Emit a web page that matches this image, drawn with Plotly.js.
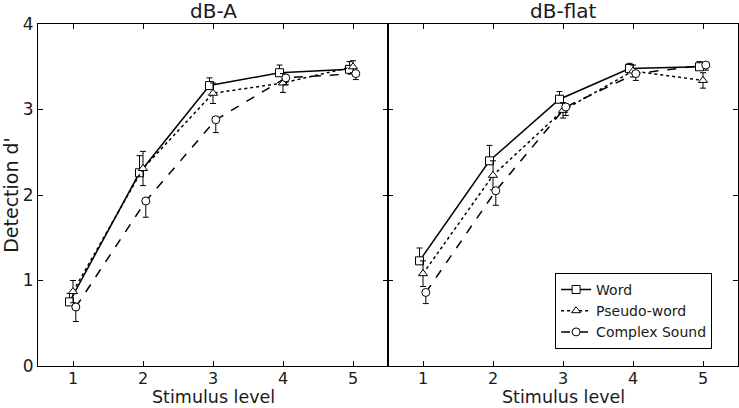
<!DOCTYPE html>
<html>
<head>
<meta charset="utf-8">
<script src="https://cdn.plot.ly/plotly-3.0.1.min.js"></script>
<style>html,body{margin:0;padding:0;background:#fff;}#chart{width:739px;height:408px;}</style>
</head>
<body>
<div id="chart"></div>
<script>
// Data
const levels = [1, 2, 3, 4, 5];
const seriesNames = ["Word", "Pseudo-word", "Complex Sound"];
const panelTitles = ["dB-A", "dB-flat"];
const xTitle = "Stimulus level";
const yTitle = "Detection d'";

// dB-A
const wordA      = [0.75, 2.26, 3.28, 3.43, 3.47];
const wordAErr   = [0.10, 0.20, 0.09, 0.09, 0.09];
const pseudoA    = [0.87, 2.31, 3.19, 3.31, 3.50];
const pseudoAErr = [0.13, 0.20, 0.12, 0.11, 0.07];
const complexA   = [0.69, 1.93, 2.88, 3.37, 3.42];
const complexAErr= [0.17, 0.19, 0.15, 0.08, 0.07];

// dB-flat
const wordF      = [1.23, 2.40, 3.12, 3.48, 3.50];
const wordFErr   = [0.15, 0.18, 0.09, 0.06, 0.06];
const pseudoF    = [1.08, 2.23, 2.99, 3.45, 3.34];
const pseudoFErr = [0.15, 0.17, 0.09, 0.07, 0.09];
const complexF   = [0.86, 2.05, 3.03, 3.42, 3.52];
const complexFErr= [0.13, 0.17, 0.10, 0.08, 0.06];

const offsets = [-0.05, 0, 0.04];
const symbols = ["square", "triangle-up", "circle"];
const dashes = ["solid", "dot", "dash"];
// error bar direction: Word up, Pseudo both, Complex down
function errFor(i, err) {
  const zeros = err.map(() => 0);
  if (i === 0) return {type: "data", symmetric: false, array: err, arrayminus: zeros, color: "#000", thickness: 1, width: 3};
  if (i === 1) return {type: "data", symmetric: true, array: err, color: "#000", thickness: 1, width: 3};
  return {type: "data", symmetric: false, array: zeros, arrayminus: err, color: "#000", thickness: 1, width: 3};
}

const panels = [
  {vals: [wordA, pseudoA, complexA], errs: [wordAErr, pseudoAErr, complexAErr], xa: "x", ya: "y"},
  {vals: [wordF, pseudoF, complexF], errs: [wordFErr, pseudoFErr, complexFErr], xa: "x2", ya: "y2"}
];

const traces = [];
panels.forEach((p, pi) => {
  p.vals.forEach((v, i) => {
    traces.push({
      type: "scatter", mode: "lines+markers",
      name: seriesNames[i],
      x: levels.map(l => l + offsets[i]), y: v,
      xaxis: p.xa, yaxis: p.ya,
      showlegend: pi === 1,
      line: {color: "#000", width: 1.5, dash: dashes[i]},
      marker: {symbol: symbols[i], size: 8, color: "#fff", line: {width: 1, color: "#000"}},
      error_y: errFor(i, p.errs[i])
    });
  });
});

const font = {family: "DejaVu Sans, sans-serif", color: "#1a1a1a"};
function xaxis(domain) {
  return {
    domain: domain, range: [0.5, 5.5], tickvals: levels, ticktext: levels.map(String),
    ticks: "inside", ticklen: 5, tickcolor: "#000", mirror: "ticks", showline: true, linecolor: "#000", linewidth: 1,
    showgrid: false, zeroline: false, tickfont: Object.assign({size: 16}, font), ticklabelstandoff: -2,
    title: {text: ""}
  };
}
function yaxis(anchor, labels) {
  return {
    anchor: anchor, range: [0, 4], tickvals: [0, 1, 2, 3, 4], ticktext: ["0","1","2","3","4"],
    showticklabels: labels,
    ticks: "inside", ticklen: 5, tickcolor: "#000", mirror: "ticks", showline: true, linecolor: "#000", linewidth: 1,
    showgrid: false, zeroline: false, tickfont: Object.assign({size: 17}, font),
    title: labels ? {text: yTitle, font: Object.assign({size: 19}, font), standoff: 4} : {text: ""}
  };
}

const annotations = panelTitles.map((t, i) => ({
  text: t, xref: "paper", yref: "paper", x: 0.25 + 0.5 * i, xanchor: "center", y: 1, yanchor: "bottom", yshift: -1,
  showarrow: false, font: Object.assign({size: 20}, font)
})).concat([0, 1].map(i => ({
  text: xTitle, xref: "paper", yref: "paper", x: 0.25 + 0.5 * i, xanchor: "center", y: -0.1228, yanchor: "bottom", yshift: -1,
  showarrow: false, font: Object.assign({size: 17.5}, font)
})));

const layout = {
  width: 739, height: 408,
  margin: {l: 38, r: 1, t: 24, b: 42},
  paper_bgcolor: "#fff", plot_bgcolor: "#fff",
  showlegend: true,
  xaxis: xaxis([0, 0.5]),
  xaxis2: Object.assign(xaxis([0.5, 1]), {anchor: "y2"}),
  yaxis: yaxis("x", true),
  yaxis2: yaxis("x2", false),
  legend: {
    x: 0.963, y: 0.05, xanchor: "right", yanchor: "bottom",
    bordercolor: "#000", borderwidth: 1, bgcolor: "#fff",
    font: Object.assign({size: 14}, font), tracegroupgap: 0, itemwidth: 30
  },
  annotations: annotations
};

Plotly.newPlot("chart", traces, layout, {displayModeBar: false, staticPlot: true});
</script>
</body>
</html>
